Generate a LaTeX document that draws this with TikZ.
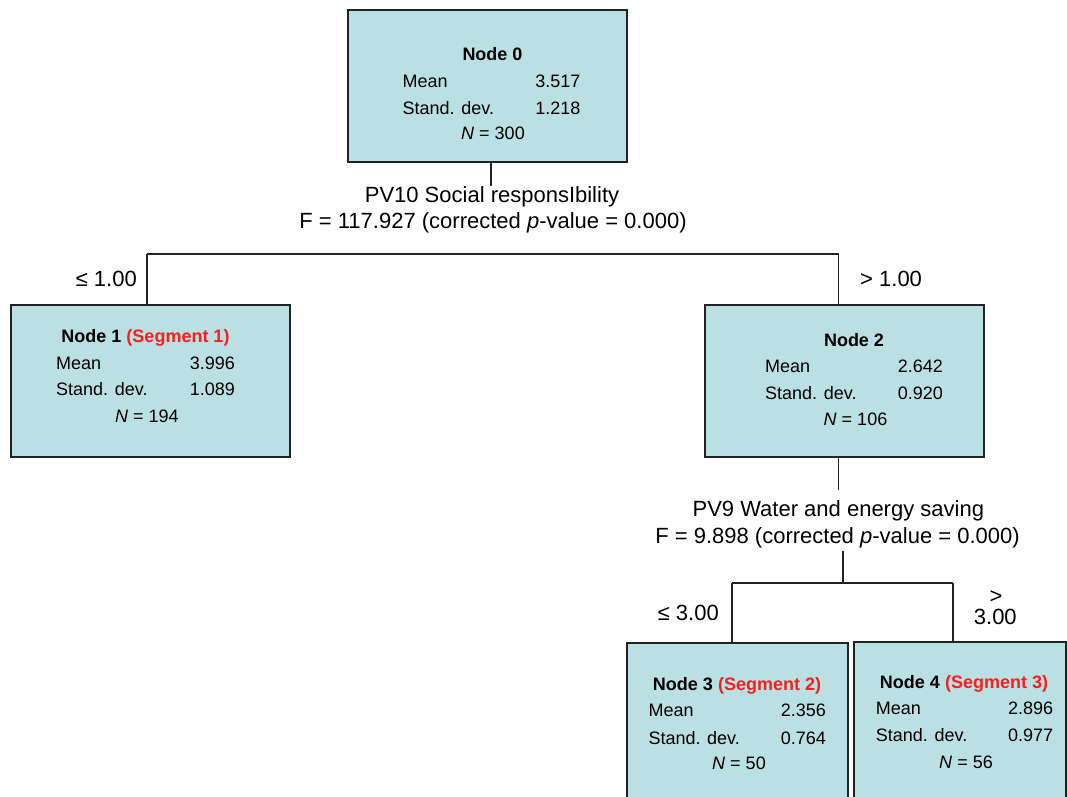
\documentclass[tikz,border=0pt]{standalone}
\usepackage{fontspec}
\setmainfont{Liberation Sans}
\definecolor{boxfill}{RGB}{187,224,227}
\definecolor{segred}{RGB}{250,30,30}
\definecolor{linecol}{RGB}{35,35,35}
\begin{document}
\begin{tikzpicture}[x=1pt,y=-1pt,
  box/.style={draw=linecol, fill=boxfill, line width=1.3pt, anchor=north west, inner sep=0pt, outer sep=0pt},
  conn/.style={draw=linecol, line width=1.3pt},
  txt/.style={inner sep=0pt, font=\fontsize{18}{20}\selectfont, anchor=base west},
  num/.style={txt, anchor=base east},
  ctr/.style={txt, anchor=base},
  ttl/.style={ctr, font=\fontsize{18}{20}\selectfont\bfseries},
  lbl/.style={inner sep=0pt, font=\fontsize{22}{26}\selectfont, anchor=base},
  lblw/.style={lbl, anchor=base west},
  lble/.style={lbl, anchor=base east},
]
\useasboundingbox (0,0) rectangle (1067,796);

% boxes
\node[box, minimum width=279pt, minimum height=152pt] (n0) at (348,10) {};
\node[box, minimum width=279pt, minimum height=152pt] (n1) at (11,305) {};
\node[box, minimum width=279pt, minimum height=152pt] (n2) at (705,305) {};
\node[box, minimum width=221pt, minimum height=175pt] (n3) at (627,643) {};
\node[box, minimum width=212pt, minimum height=175pt] (n4) at (854,642) {};

% node 0 text
\node[ttl] (n0t) at (492.5,60.5) {Node 0};
\node[txt] (n0m) at (402.5,87) {Mean};
\node[num] (n0mv) at (580.5,87) {3.517};
\node[txt] (n0s) at (402.5,114) {Stand. dev.};
\node[num] (n0sv) at (580.5,114) {1.218};
\node[ctr] (n0n) at (493,139.3) {\textit{N} = 300};

% node 1 text
\node[ttl] (n1t) at (145.5,342.3) {Node 1 \textcolor{segred}{(Segment 1)}};
\node[txt] (n1m) at (56,369.3) {Mean};
\node[num] (n1mv) at (235,369.3) {3.996};
\node[txt] (n1s) at (56,395.5) {Stand. dev.};
\node[num] (n1sv) at (235,395.5) {1.089};
\node[ctr] (n1n) at (147,422.7) {\textit{N} = 194};

% node 2 text
\node[ttl] (n2t) at (854,346) {Node 2};
\node[txt] (n2m) at (765,372.3) {Mean};
\node[num] (n2mv) at (943,372.3) {2.642};
\node[txt] (n2s) at (765,399.3) {Stand. dev.};
\node[num] (n2sv) at (943,399.3) {0.920};
\node[ctr] (n2n) at (855.5,425.7) {\textit{N} = 106};

% node 3 text
\node[ttl] (n3t) at (737,690) {Node 3 \textcolor{segred}{(Segment 2)}};
\node[txt] (n3m) at (648.3,716) {Mean};
\node[num] (n3mv) at (826,716) {2.356};
\node[txt] (n3s) at (648.3,744) {Stand. dev.};
\node[num] (n3sv) at (826,744) {0.764};
\node[ctr] (n3n) at (739,769.3) {\textit{N} = 50};

% node 4 text
\node[ttl] (n4t) at (964,688.3) {Node 4 \textcolor{segred}{(Segment 3)}};
\node[txt] (n4m) at (875.7,714.3) {Mean};
\node[num] (n4mv) at (1053.3,714.3) {2.896};
\node[txt] (n4s) at (875.7,741) {Stand. dev.};
\node[num] (n4sv) at (1053.3,741) {0.977};
\node[ctr] (n4n) at (966,768.3) {\textit{N} = 56};

% split labels
\node[lbl] (l0a) at (492,202.3) {PV10 Social responsIbility};
\node[lbl] (l0b) at (493,228.5) {F = 117.927 (corrected \textit{p}-value = 0.000)};
\node[lbl] (l1a) at (838.3,516.7) {PV9 Water and energy saving};
\node[lbl] (l1b) at (837.5,543.5) {F = 9.898 (corrected \textit{p}-value = 0.000)};

% branch labels
\node[lble] (b1) at (137,286.5) {≤ 1.00};
\node[lblw] (b2) at (860,286.7) {> 1.00};
\node[lble] (b3) at (719,620.7) {≤ 3.00};
\node[lbl] (b4a) at (996,603.5) {>};
\node[lbl] (b4b) at (995.3,624) {3.00};

% junctions
\coordinate (j0l) at (147,254);
\coordinate (j0r) at (838.5,254);
\coordinate (j1) at (843,583);
\coordinate (j1l) at (732,583);
\coordinate (j1r) at (953,583);

% connectors
\draw[conn] (n0.south -| 491,0) -- (l0a.north -| 491,0);
\draw[conn] (j0l) -- (j0r);
\draw[conn] (j0l) -- (j0l |- n1.north);
\draw[conn] (j0r) -- (j0r |- n2.north);
\draw[conn, shorten >=11pt] (n2.south -| j0r) -- (l1a.north -| j0r);
\draw[conn, shorten <=3pt] (l1b.south -| j1) -- (j1);
\draw[conn] (j1l) -- (j1r);
\draw[conn] (j1l) -- (j1l |- n3.north);
\draw[conn] (j1r) -- (j1r |- n4.north);
\end{tikzpicture}
\end{document}
